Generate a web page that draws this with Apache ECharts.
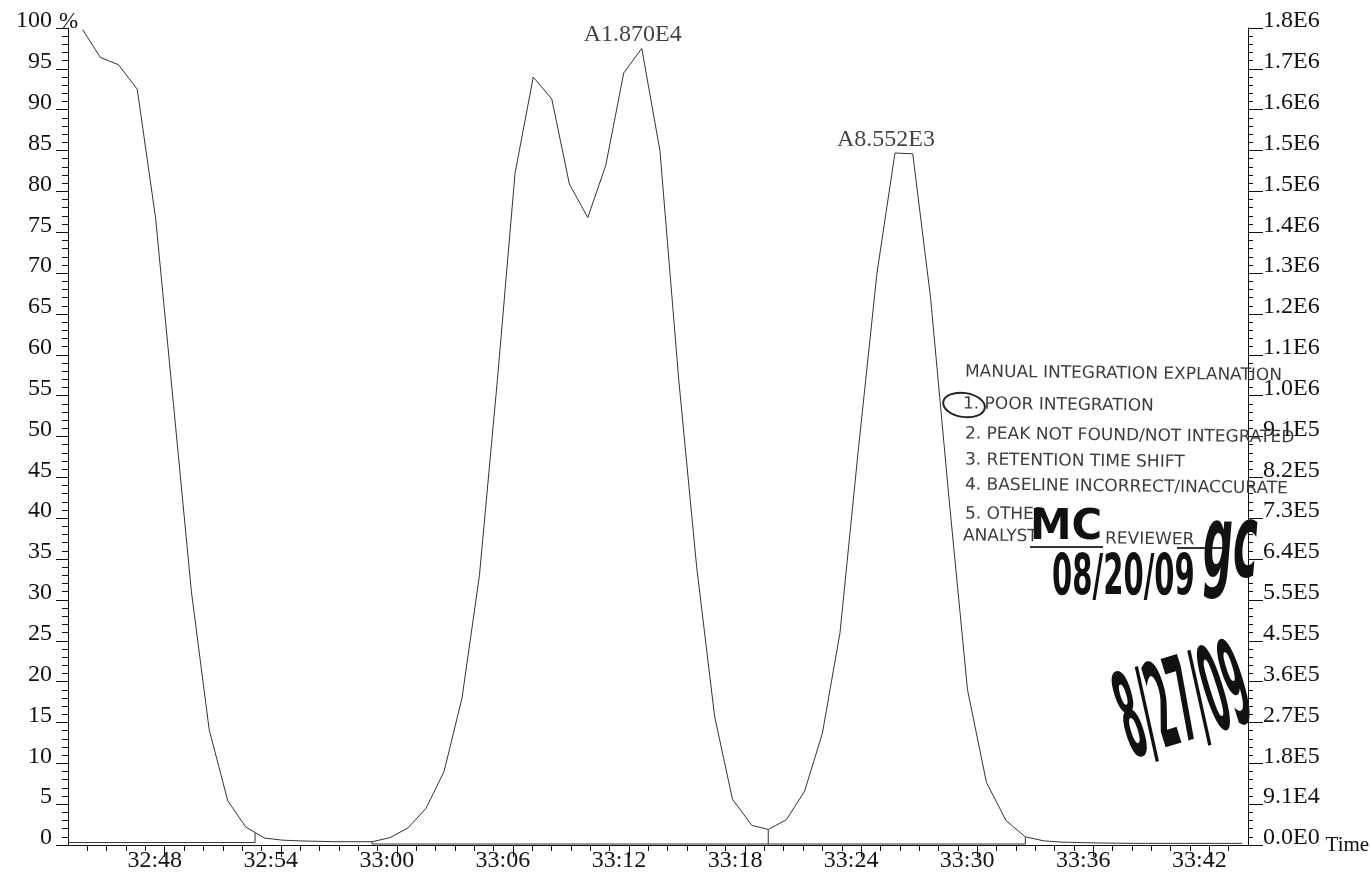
<!DOCTYPE html>
<html><head><meta charset="utf-8">
<script src="https://cdn.jsdelivr.net/npm/echarts@6.0.0/dist/echarts.min.js"></script>
<style>html,body{margin:0;padding:0;background:#fff}#c{width:1370px;height:877px}</style>
</head><body><div id="c"></div>
<script>
// retention time in seconds (32:43 = 1963 s)
const times = [1963.76,1964.67,1965.61,1966.58,1967.53,1968.45,1969.38,1970.30,1971.26,1972.19,1973.15,1974.05,1974.99,1975.92,1976.85,1977.78,1978.72,1979.65,1980.58,1981.51,1982.44,1983.37,1984.27,1985.20,1986.11,1987.05,1988.01,1988.92,1989.87,1990.80,1991.73,1992.66,1993.60,1994.57,1995.50,1996.43,1997.35,1998.35,1999.20,2000.14,2001.08,2002.00,2002.91,2003.84,2004.82,2005.75,2006.67,2007.59,2008.54,2009.50,2010.48,2011.49,2012.49,2013.46,2014.39,2015.32,2016.25,2017.18,2018.11,2019.04,2019.97,2020.90,2021.83,2022.76,2023.69];
// relative intensity (%)
const intensity = [99.8,96.4,95.5,92.5,76.7,54,31,14.1,5.4,2.2,0.86,0.6,0.5,0.45,0.4,0.4,0.4,0.9,2.1,4.5,9.0,18,33,57,82.2,94.0,91.3,80.9,76.8,83.2,94.5,97.5,85.0,57,34,15.7,5.6,2.4,1.9,3.1,6.6,13.7,26,48,70,84.7,84.6,67,42.5,19,7.65,3.0,1.0,0.5,0.35,0.3,0.25,0.22,0.2,0.2,0.2,0.2,0.2,0.2,0.2];

// integration baselines / drop lines
const baseA = [[1963.0,0.3],[1972.67,0.3],[1972.67,1.5]];
const baseB = [[1978.72,0.4],[1978.72,0.12],[1999.20,0.12],[1999.20,1.9]];
const baseC = [[1999.20,0.12],[2012.49,0.12],[2012.49,1.0]];

// peak area annotations
const peakTimes = [1992.66, 2005.75];
const peakValues = [97.5, 84.7];
const peakAreas = ['A1.870E4', 'A8.552E3'];

// axis ticks / labels
const xMin = 1963, xMax = 2024;
const xTickValues = [1968,1974,1980,1986,1992,1998,2004,2010,2016,2022];
const xTickLabels = ['32:48','32:54','33:00','33:06','33:12','33:18','33:24','33:30','33:36','33:42'];
const rightMax = 1820000, rightStep = 91000;
const rightTickLabels = ['0.0E0','9.1E4','1.8E5','2.7E5','3.6E5','4.5E5','5.5E5','6.4E5','7.3E5','8.2E5','9.1E5','1.0E6','1.1E6','1.2E6','1.3E6','1.4E6','1.5E6','1.5E6','1.6E6','1.7E6','1.8E6'];

const minorX = [];
for (let s = xMin + 1; s < xMax; s++) minorX.push(s);

const serif = '"Liberation Serif", "Times New Roman", serif';
const ink = '#111';
const txt = {fontFamily: serif, fontSize: 24, color: ink};

const chart = echarts.init(document.getElementById('c'), null, {renderer: 'canvas'});
const stampFont = '17px "DejaVu Sans", sans-serif';
const stampColor = '#3c3c3c';
const rot = -0.012;
function stamp(text, x, y) {
  return {type: 'text', x: x, y: y, rotation: rot, z: 10,
    style: {text: text, font: stampFont, fill: stampColor, textVerticalAlign: 'middle', textAlign: 'left'}};
}

chart.setOption({
  animation: false,
  backgroundColor: '#fff',
  grid: {left: 68, right: 122, top: 28, bottom: 32, containLabel: false, outerBoundsMode: 'none'},
  xAxis: [{
    type: 'value', min: xMin, max: xMax, position: 'bottom',
    axisLine: {show: true, lineStyle: {color: ink, width: 1}},
    axisTick: {show: true, customValues: xTickValues, length: 12, lineStyle: {color: ink}},
    axisLabel: {show: true, customValues: xTickValues, margin: 4, padding: [0, 20, 0, 0],
      formatter: v => xTickLabels[Math.round((v - 1968) / 6)], ...txt, lineHeight: 24},
    splitLine: {show: false},
    name: 'Time', nameLocation: 'end', nameGap: 76,
    nameTextStyle: {...txt, fontSize: 21, align: 'left', verticalAlign: 'middle', padding: [42, 0, 0, 0], lineHeight: 24}
  }, {
    type: 'value', min: xMin, max: xMax, position: 'bottom', offset: 0,
    axisLine: {show: false},
    axisTick: {show: true, customValues: minorX, length: 6, lineStyle: {color: ink}},
    axisLabel: {show: false},
    splitLine: {show: false}
  }],
  yAxis: [{
    type: 'value', min: 0, max: 100, interval: 5, position: 'left',
    axisLine: {show: true, lineStyle: {color: ink, width: 1}},
    axisTick: {show: true, length: 12, lineStyle: {color: ink}},
    minorTick: {show: true, splitNumber: 5, length: 6, lineStyle: {color: ink}},
    axisLabel: {show: true, margin: 16, verticalAlign: 'bottom', lineHeight: 14, ...txt,
      formatter: v => String(v)},
    splitLine: {show: false}
  }, {
    type: 'value', min: 0, max: rightMax, interval: rightStep, position: 'right',
    axisLine: {show: true, lineStyle: {color: ink, width: 1}},
    axisTick: {show: true, length: 15, lineStyle: {color: ink}},
    minorTick: {show: true, splitNumber: 5, length: 5, lineStyle: {color: ink}},
    axisLabel: {show: true, margin: 15, verticalAlign: 'bottom', lineHeight: 14, ...txt,
      formatter: v => rightTickLabels[Math.round(v / rightStep)]},
    splitLine: {show: false}
  }],
  series: [{
    type: 'line', name: 'TIC', xAxisIndex: 0, yAxisIndex: 0,
    data: times.map((t, i) => [t, intensity[i]]),
    symbol: 'none', lineStyle: {color: '#333', width: 1}, z: 3
  },
  ...[baseA, baseB, baseC].map(seg => ({
    type: 'line', xAxisIndex: 0, yAxisIndex: 0, data: seg, symbol: 'none',
    lineStyle: {color: '#333', width: 1}, z: 2
  })),
  {
    type: 'scatter', xAxisIndex: 0, yAxisIndex: 0,
    data: peakTimes.map((t, i) => ({value: [t, peakValues[i]], name: peakAreas[i]})),
    symbolSize: 1, itemStyle: {color: 'rgba(0,0,0,0)'},
    label: {show: true, position: 'top', distance: 1, offset: [-9, 0], formatter: p => p.name, ...txt}
  }],
  graphic: [
    stamp('MANUAL INTEGRATION EXPLANATION', 965, 372),
    stamp('1. POOR INTEGRATION', 963, 404),
    stamp('2. PEAK NOT FOUND/NOT INTEGRATED', 965, 434),
    stamp('3. RETENTION TIME SHIFT', 965, 460),
    stamp('4. BASELINE INCORRECT/INACCURATE', 965, 485),
    stamp('5. OTHER', 965, 514),
    stamp('ANALYST', 963, 536),
    stamp('REVIEWER', 1105, 539),
    {type: 'line', shape: {x1: 1030, y1: 547, x2: 1103, y2: 547}, style: {stroke: '#333', lineWidth: 2}},
    {type: 'line', shape: {x1: 1177, y1: 548, x2: 1225, y2: 548}, style: {stroke: '#333', lineWidth: 2}},
    {type: 'ellipse', shape: {cx: 964, cy: 405, rx: 21, ry: 12}, rotation: -0.15, originX: 964, originY: 405,
      style: {fill: 'none', stroke: '#222', lineWidth: 2}},
    {type: 'text', x: 1030, y: 507, z: 11, scaleX: 0.95, scaleY: 0.95,
      style: {text: 'MC', font: 'bold 44px "DejaVu Sans", sans-serif', fill: ink}},
    {type: 'text', x: 1203, y: 500, z: 11, scaleX: 0.75, scaleY: 1.8,
      style: {text: 'gc', font: 'italic bold 56px "DejaVu Sans", sans-serif', fill: ink}},
    {type: 'text', x: 1052, y: 552, z: 11, scaleX: 0.56, scaleY: 1.1,
      style: {text: '08/20/09', font: 'bold 52px "DejaVu Sans", sans-serif', fill: ink}},
    {type: 'text', x: 1140, y: 785, z: 11, rotation: 0.3, scaleX: 0.265,
      style: {text: '8/27/09', font: 'bold 118px "DejaVu Sans", sans-serif', fill: ink,
        textVerticalAlign: 'bottom', textAlign: 'left'}}
  ]
});
// "%" unit sits just right of the 100 label, at the top of the left axis
const top100 = chart.convertToPixel({gridIndex: 0}, [xMin, 100]);
chart.setOption({graphic: [{type: 'text', id: 'pct', x: top100[0] - 9, y: top100[1] + 5, z: 12,
  style: {text: '%', font: '23px ' + serif, fill: ink, textVerticalAlign: 'bottom', textAlign: 'left'}}]});
</script></body></html>
